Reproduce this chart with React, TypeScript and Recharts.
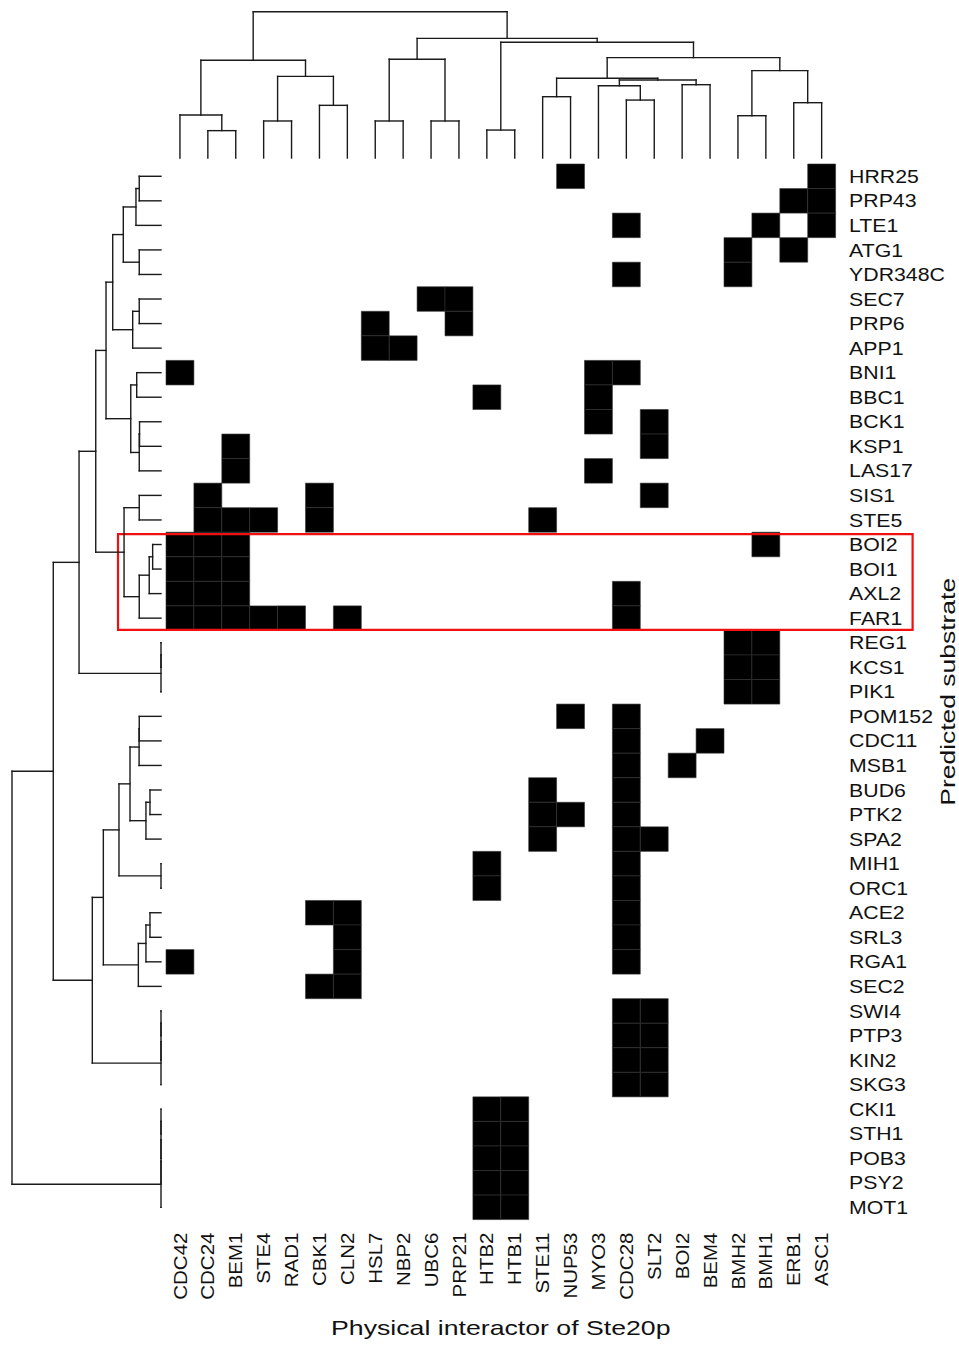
import React from 'react';
import { ComposedChart, XAxis, YAxis, ReferenceArea, ReferenceLine } from 'recharts';

const FONT = '"Liberation Sans", Arial, Helvetica, sans-serif';

const interactors = [
  'CDC42', 'CDC24', 'BEM1', 'STE4', 'RAD1', 'CBK1', 'CLN2', 'HSL7', 'NBP2', 'UBC6', 'PRP21', 'HTB2',
  'HTB1', 'STE11', 'NUP53', 'MYO3', 'CDC28', 'SLT2', 'BOI2', 'BEM4', 'BMH2', 'BMH1', 'ERB1', 'ASC1',
];

const substrates = [
  'HRR25', 'PRP43', 'LTE1', 'ATG1', 'YDR348C', 'SEC7', 'PRP6', 'APP1', 'BNI1', 'BBC1', 'BCK1',
  'KSP1', 'LAS17', 'SIS1', 'STE5', 'BOI2', 'BOI1', 'AXL2', 'FAR1', 'REG1', 'KCS1', 'PIK1',
  'POM152', 'CDC11', 'MSB1', 'BUD6', 'PTK2', 'SPA2', 'MIH1', 'ORC1', 'ACE2', 'SRL3', 'RGA1',
  'SEC2', 'SWI4', 'PTP3', 'KIN2', 'SKG3', 'CKI1', 'STH1', 'POB3', 'PSY2', 'MOT1',
];

// interactors found for each substrate (one entry per row, same order as substrates)
const hits: string[][] = [
  ['NUP53', 'ASC1'],
  ['ERB1', 'ASC1'],
  ['CDC28', 'BMH1', 'ASC1'],
  ['BMH2', 'ERB1'],
  ['CDC28', 'BMH2'],
  ['UBC6', 'PRP21'],
  ['HSL7', 'PRP21'],
  ['HSL7', 'NBP2'],
  ['CDC42', 'MYO3', 'CDC28'],
  ['HTB2', 'MYO3'],
  ['MYO3', 'SLT2'],
  ['BEM1', 'SLT2'],
  ['BEM1', 'MYO3'],
  ['CDC24', 'CBK1', 'SLT2'],
  ['CDC24', 'BEM1', 'STE4', 'CBK1', 'STE11'],
  ['CDC42', 'CDC24', 'BEM1', 'BMH1'],
  ['CDC42', 'CDC24', 'BEM1'],
  ['CDC42', 'CDC24', 'BEM1', 'CDC28'],
  ['CDC42', 'CDC24', 'BEM1', 'STE4', 'RAD1', 'CLN2', 'CDC28'],
  ['BMH2', 'BMH1'],
  ['BMH2', 'BMH1'],
  ['BMH2', 'BMH1'],
  ['NUP53', 'CDC28'],
  ['CDC28', 'BEM4'],
  ['CDC28', 'BOI2'],
  ['STE11', 'CDC28'],
  ['STE11', 'NUP53', 'CDC28'],
  ['STE11', 'CDC28', 'SLT2'],
  ['HTB2', 'CDC28'],
  ['HTB2', 'CDC28'],
  ['CBK1', 'CLN2', 'CDC28'],
  ['CLN2', 'CDC28'],
  ['CDC42', 'CLN2', 'CDC28'],
  ['CBK1', 'CLN2'],
  ['CDC28', 'SLT2'],
  ['CDC28', 'SLT2'],
  ['CDC28', 'SLT2'],
  ['CDC28', 'SLT2'],
  ['HTB2', 'HTB1'],
  ['HTB2', 'HTB1'],
  ['HTB2', 'HTB1'],
  ['HTB2', 'HTB1'],
  ['HTB2', 'HTB1'],
];

// hclust style merges: negative = leaf (-1 is the first leaf), positive = earlier merge (1-based), then height
const colMerges: [number, number, number][] = [
  [-2, -3, 0.187], [-1, 1, 0.294], [-4, -5, 0.253], [-6, -7, 0.36], [3, 4, 0.558], [2, 5, 0.668],
  [-8, -9, 0.253], [-10, -11, 0.253], [7, 8, 0.675], [-12, -13, 0.191], [-14, -15, 0.419],
  [-17, -18, 0.396], [-16, 12, 0.494], [-19, -20, 0.501], [13, 14, 0.533], [11, 15, 0.545],
  [-21, -22, 0.289], [-23, -24, 0.378], [17, 18, 0.597], [16, 19, 0.686], [10, 20, 0.791],
  [9, 21, 0.818], [6, 22, 1.0],
];

const rowMerges: [number, number, number][] = [
  [-1, -2, 0.146], [1, -3, 0.168], [-4, -5, 0.146], [2, 3, 0.253], [-6, -7, 0.146], [5, -8, 0.19],
  [4, 6, 0.324], [-9, -10, 0.163], [-11, -12, 0.144], [9, -13, 0.146], [8, 10, 0.203], [7, 11, 0.369],
  [-14, -15, 0.146], [-16, -17, 0.056], [14, -18, 0.079], [15, -19, 0.146], [13, 16, 0.248],
  [12, 17, 0.438], [-20, -21, 0], [19, -22, 0], [18, 20, 0.55], [-23, -24, 0.146], [22, -25, 0.147],
  [-26, -27, 0.074], [24, -28, 0.101], [23, 25, 0.208], [-29, -30, 0], [26, 27, 0.282],
  [-31, -32, 0.074], [29, -33, 0.101], [30, -34, 0.152], [28, 31, 0.387], [-35, -36, 0],
  [33, -37, 0], [34, -38, 0], [32, 35, 0.461], [21, 36, 0.723], [-39, -40, 0], [38, -41, 0],
  [39, -42, 0], [40, -43, 0], [37, 41, 1.0],
];

// the boxed block of substrates
const boxFrom = 'BOI2';
const boxTo = 'FAR1';

// each merge gives two legs and a crossbar, as [pos, height] pairs
function treeSegments(merges: [number, number, number][]) {
  const pos: number[] = [];
  const hgt: number[] = [];
  const at = (ref: number): [number, number] => (ref < 0 ? [-ref - 1, 0] : [pos[ref - 1], hgt[ref - 1]]);
  const segs: [number, number][][] = [];
  merges.forEach(([l, r, h], i) => {
    const [pl, hl] = at(l);
    const [pr, hr] = at(r);
    segs.push([[pl, hl], [pl, h]], [[pl, h], [pr, h]], [[pr, hr], [pr, h]]);
    pos[i] = (pl + pr) / 2;
    hgt[i] = h;
  });
  return segs;
}

const ColTick = ({ x, y, payload }: any) => (
  <g transform={`translate(${x + 6.6},${y + 13}) rotate(-90) scale(1.1,1)`}>
    <text textAnchor="end" fontSize={18.6} fill="#111" fontFamily={FONT}>
      {interactors[payload.value]}
    </text>
  </g>
);

const RowTick = ({ x, y, payload }: any) => (
  <g transform={`translate(${x + 13.5},${y + 6.6}) scale(1.15,1)`}>
    <text textAnchor="start" fontSize={18.5} fill="#111" fontFamily={FONT}>
      {substrates[payload.value]}
    </text>
  </g>
);

const XTitle = ({ viewBox }: any) => (
  <g transform={`translate(${viewBox.x + viewBox.width / 2},${viewBox.y + 115.4}) scale(1.27,1)`}>
    <text textAnchor="middle" fontSize={21} fill="#111" fontFamily={FONT}>
      Physical interactor of Ste20p
    </text>
  </g>
);

const YTitle = ({ viewBox }: any) => (
  <g transform={`translate(${viewBox.x + 119.4},${viewBox.y + viewBox.height / 2}) rotate(-90) scale(1.26,1)`}>
    <text textAnchor="middle" fontSize={21} fill="#111" fontFamily={FONT}>
      Predicted substrate
    </text>
  </g>
);

const Heatmap = () => {
  const cells = hits.flatMap((row, r) => row.map((name) => ({ r, c: interactors.indexOf(name) })));
  const r0 = substrates.indexOf(boxFrom);
  const r1 = substrates.indexOf(boxTo);
  return (
    <ComposedChart width={959} height={1345} data={cells} margin={{ top: 164, right: 23.4, bottom: 25.4, left: 166 }}>
      <XAxis
        type="number"
        dataKey="c"
        domain={[-0.5, interactors.length - 0.5]}
        allowDataOverflow
        ticks={interactors.map((_, i) => i)}
        interval={0}
        height={100}
        tickSize={0}
        tickMargin={0}
        axisLine={false}
        tickLine={false}
        tick={<ColTick />}
        label={<XTitle />}
      />
      <YAxis
        type="number"
        dataKey="r"
        orientation="right"
        reversed
        domain={[-0.5, substrates.length - 0.5]}
        allowDataOverflow
        ticks={substrates.map((_, i) => i)}
        interval={0}
        width={100}
        tickSize={0}
        tickMargin={0}
        axisLine={false}
        tickLine={false}
        tick={<RowTick />}
        label={<YTitle />}
      />
      {cells.map(({ r, c }) => (
        <ReferenceArea
          key={`${r}-${c}`}
          x1={c - 0.5}
          x2={c + 0.5}
          y1={r - 0.5}
          y2={r + 0.5}
          fill="#000"
          fillOpacity={1}
          stroke="#333"
          strokeWidth={0.6}
          ifOverflow="visible"
        />
      ))}
      <ReferenceArea
        x1={-2.22}
        x2={26.26}
        y1={r0 - 0.42}
        y2={r1 + 0.48}
        fill="none"
        fillOpacity={0}
        stroke="#f01010"
        strokeWidth={2.2}
        ifOverflow="visible"
      />
    </ComposedChart>
  );
};

const colSegs = treeSegments(colMerges);
const rowSegs = treeSegments(rowMerges);

const ColumnTree = () => {
  const pts = colSegs.flat().map(([p, h]) => ({ x: p, y: h }));
  return (
    <ComposedChart width={959} height={170} data={pts} margin={{ top: 11.7, right: 123.4, bottom: 12, left: 166 }}>
      <XAxis type="number" dataKey="x" domain={[-0.5, interactors.length - 0.5]} allowDataOverflow hide />
      <YAxis type="number" dataKey="y" domain={[0, 1]} allowDataOverflow hide />
      {colSegs.map(([a, b], i) => (
        <ReferenceLine
          key={i}
          segment={[{ x: a[0], y: a[1] }, { x: b[0], y: b[1] }]}
          stroke="#1a1a1a"
          strokeWidth={1.4}
          strokeLinecap="square"
          ifOverflow="visible"
        />
      ))}
    </ComposedChart>
  );
};

const RowTree = () => {
  const pts = rowSegs.flat().map(([p, h]) => ({ x: h, y: p }));
  return (
    <ComposedChart width={170} height={1345} data={pts} margin={{ top: 164, right: 9, bottom: 125.4, left: 12 }}>
      <XAxis type="number" dataKey="x" domain={[0, 1]} reversed allowDataOverflow hide />
      <YAxis type="number" dataKey="y" domain={[-0.5, substrates.length - 0.5]} reversed allowDataOverflow hide />
      {rowSegs.map(([a, b], i) => (
        <ReferenceLine
          key={i}
          segment={[{ x: a[1], y: a[0] }, { x: b[1], y: b[0] }]}
          stroke="#1a1a1a"
          strokeWidth={1.4}
          strokeLinecap="square"
          ifOverflow="visible"
        />
      ))}
    </ComposedChart>
  );
};

export default function App() {
  return (
    <div style={{ position: 'absolute', left: 0, top: 0, width: 959, height: 1345, background: '#fff' }}>
      <div style={{ position: 'absolute', left: 0, top: 0 }}>
        <Heatmap />
      </div>
      <div style={{ position: 'absolute', left: 0, top: 0, pointerEvents: 'none' }}>
        <ColumnTree />
      </div>
      <div style={{ position: 'absolute', left: 0, top: 0, pointerEvents: 'none' }}>
        <RowTree />
      </div>
    </div>
  );
}
